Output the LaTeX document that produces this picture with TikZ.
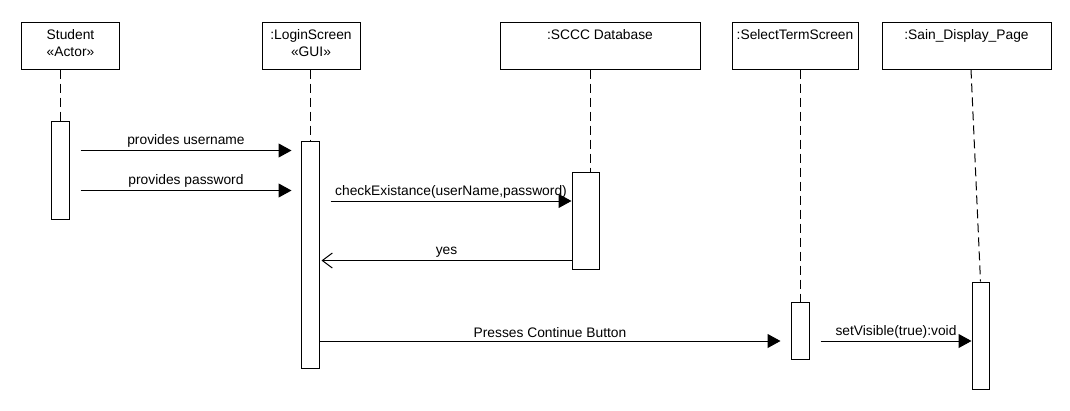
\documentclass[tikz,border=0pt]{standalone}
\usepackage{fontspec}
\setmainfont{Liberation Sans}
\usetikzlibrary{calc,arrows.meta}
\begin{document}
\begin{tikzpicture}[x=1pt,y=-1pt,
  font=\fontsize{13.8}{17}\selectfont,
  line width=1pt,
  hdr/.style={draw, minimum height=47, inner sep=0},
  hlbl/.style={anchor=north, inner sep=0, yshift=-7pt, align=center},
  act/.style={draw, fill=white, inner sep=0},
  life/.style={dash pattern=on 9pt off 5pt},
  msg/.style={-{Triangle[length=13pt,width=14pt]}},
  ret/.style={-{Straight Barb[length=10pt,width=15pt,line width=1pt]}},
  mlbl/.style={midway, above, inner sep=2.5pt}]
\useasboundingbox (0,0) rectangle (1070,410);
% header boxes
\node[hdr, minimum width=98, label={[hlbl]north:Student\\«Actor»}] (hS) at (70.5,45.5) {};
\node[hdr, minimum width=98, label={[hlbl]north::LoginScreen\\«GUI»}] (hL) at (311,45.5) {};
\node[hdr, minimum width=200, label={[hlbl]north::SCCC Database}] (hD) at (600,45.5) {};
\node[hdr, minimum width=126, label={[hlbl]north::SelectTermScreen}] (hT) at (795,45.5) {};
\node[hdr, minimum width=169, label={[hlbl]north::Sain\_Display\_Page}] (hP) at (966.5,45.5) {};
% activations
\node[act, minimum width=18, minimum height=98] (aS) at (60,170) {};
\node[act, minimum width=18, minimum height=227] (aL) at (310,254.5) {};
\node[act, minimum width=27, minimum height=97] (aD) at (585.5,220.5) {};
\node[act, minimum width=18, minimum height=57] (aT) at (800,330.5) {};
\node[act, minimum width=17, minimum height=107] (aP) at (980.5,335.5) {};
% lifelines
\coordinate (lD) at ($(aD.north)+(4.5,0)$);
\coordinate (lP) at ($(hP.south)+(4.5,0)$);
\draw[life] (hS.south -| aS.north) -- (aS.north);
\draw[life] (hL.south -| aL.north) -- (aL.north);
\draw[life] (hD.south -| lD) -- (lD);
\draw[life] (hT.south -| aT.north) -- (aT.north);
\draw[life] (lP) -- (aP.north);
% message levels
\coordinate (y1) at (0,150.5);
\coordinate (y2) at (0,190.5);
\coordinate (y3) at (0,201);
\coordinate (y4) at (0,260.5);
\coordinate (y5) at (0,341);
% messages
\draw[msg] ($(aS.east |- y1)+(11,0)$) -- node[mlbl]{provides username} ($(aL.west |- y1)+(-9,0)$);
\draw[msg] ($(aS.east |- y2)+(11,0)$) -- node[mlbl]{provides password} ($(aL.west |- y2)+(-9,0)$);
\draw[msg] ($(aL.east |- y3)+(11,0)$) -- node[mlbl]{checkExistance(userName,password)} (aD.west |- y3);
\draw[ret] (aD.west |- y4) -- node[mlbl]{yes} ($(aL.east |- y4)+(2,0)$);
\draw[msg] (aL.east |- y5) -- node[mlbl]{Presses Continue Button} ($(aT.west |- y5)+(-10,0)$);
\draw[msg] ($(aT.east |- y5)+(11,0)$) -- node[mlbl]{setVisible(true):void} (aP.west |- y5);
\end{tikzpicture}
\end{document}
